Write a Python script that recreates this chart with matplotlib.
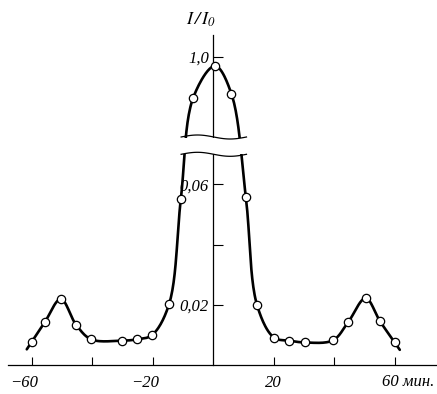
import numpy as np
import matplotlib
matplotlib.use("Agg")
import matplotlib.pyplot as plt
from matplotlib.transforms import ScaledTranslation

# значения
t_min = [-60, -55.7, -50.4, -45.3, -40.3, -30.2, -25.3, -20.3, -14.6, -10.7, -6.6, 0.6, 6.0,
         10.8, 14.5, 20.1, 25.1, 30.2, 39.6, 44.6, 50.4, 55.1, 60]
intens = [0.0077, 0.0142, 0.0219, 0.0133, 0.0085, 0.0081, 0.0085, 0.0099, 0.0202, 0.0552, 0.797, 0.955, 0.817,
          0.0557, 0.0199, 0.0091, 0.0081, 0.0075, 0.0082, 0.0142, 0.0222, 0.0146, 0.0075]

xticks = [-60, -40, -20, 20, 40, 60]
xlabels = ['\u221260', '', '\u221220', '20', '', '']
yticks = [0.02, 0.04, 0.06, 1.0]
ylabels = ['0,02', '', '0,06', '1,0']

# разрыв оси: нижняя часть 0..0.07, верхняя от 0.6
BRK_LO, BRK_HI = 0.07, 0.6
K_LO, K_HI = 3010.0, 200.0
GAP = 17.3
T_LO = BRK_LO * K_LO
T_HI = T_LO + GAP
SX = 3.025  # пикселей на минуту


def fwd(y):
    y = np.asarray(y, dtype=float)
    return np.where(y <= BRK_LO, y * K_LO,
                    np.where(y >= BRK_HI, T_HI + (y - BRK_HI) * K_HI,
                             T_LO + (y - BRK_LO) / (BRK_HI - BRK_LO) * GAP))


def inv(t):
    t = np.asarray(t, dtype=float)
    return np.where(t <= T_LO, t / K_LO,
                    np.where(t >= T_HI, BRK_HI + (t - T_HI) / K_HI,
                             BRK_LO + (t - T_LO) / GAP * (BRK_HI - BRK_LO)))


def cr_seg(p0, p1, p2, p3, n=25):
    def tj(ti, a, b):
        return ti + np.linalg.norm(b - a) ** 0.5
    t0 = 0.0
    t1 = tj(t0, p0, p1)
    t2 = tj(t1, p1, p2)
    t3 = tj(t2, p2, p3)
    t = np.linspace(t1, t2, n)[:, None]
    a1 = (t1 - t) / (t1 - t0) * p0 + (t - t0) / (t1 - t0) * p1
    a2 = (t2 - t) / (t2 - t1) * p1 + (t - t1) / (t2 - t1) * p2
    a3 = (t3 - t) / (t3 - t2) * p2 + (t - t2) / (t3 - t2) * p3
    b1 = (t2 - t) / (t2 - t0) * a1 + (t - t0) / (t2 - t0) * a2
    b2 = (t3 - t) / (t3 - t1) * a2 + (t - t1) / (t3 - t1) * a3
    return (t2 - t) / (t2 - t1) * b1 + (t - t1) / (t2 - t1) * b2


def smooth(xs, ys, ext=9.0):
    P = np.column_stack([np.asarray(xs) * SX, fwd(ys)])
    d0 = P[0] - P[1]
    d1 = P[-1] - P[-2]
    e0 = P[0] + d0 / np.linalg.norm(d0) * ext
    e1 = P[-1] + d1 / np.linalg.norm(d1) * ext
    Q = np.vstack([2 * e0 - P[0], e0, P, e1, 2 * e1 - P[-1]])
    pts = [cr_seg(Q[i - 1], Q[i], Q[i + 1], Q[i + 2]) for i in range(1, len(Q) - 2)]
    pts = np.vstack(pts)
    return pts[:, 0] / SX, inv(pts[:, 1])


plt.rcParams['font.family'] = ['Liberation Serif', 'DejaVu Serif']
plt.rcParams['font.style'] = 'italic'
plt.rcParams['mathtext.fontset'] = 'stix'

fig = plt.figure(figsize=(4.37, 3.94), dpi=100)
ax = fig.add_axes([0, 0, 1, 1])
ax.set_yscale('function', functions=(fwd, inv))
ax.set_xlim(-70.5, 74)
ax.set_ylim(float(inv(-29)), float(inv(365)))

cx, cy = smooth(t_min, intens)
ax.plot(cx, cy, color='black', lw=1.9, zorder=3, solid_capstyle='round')
ax.plot(t_min, intens, 'o', ms=6, mfc='white', mec='black', mew=0.9, zorder=6)

for s in ['top', 'right']:
    ax.spines[s].set_visible(False)
ax.spines['left'].set_position(('data', 0))
ax.spines['bottom'].set_position(('data', 0))
ax.spines['left'].set_bounds(0, 1.11)
ax.spines['bottom'].set_bounds(-68, 74)
for s in ['left', 'bottom']:
    ax.spines[s].set_linewidth(0.9)

ax.set_xticks(xticks, xlabels)
ax.set_yticks(yticks, ylabels)
ax.yaxis.set_minor_locator(matplotlib.ticker.NullLocator())
ax.tick_params(axis='x', direction='in', length=6, width=0.8, pad=7, labelsize=12)
ax.tick_params(axis='y', direction='in', length=7, width=0.8, pad=3, labelsize=12)

# подписи отрицательных значений чуть левее
for lab in ax.get_xticklabels():
    if lab.get_text().startswith('\u2212'):
        lab.set_transform(lab.get_transform() + ScaledTranslation(-0.08, 0, fig.dpi_scale_trans))

# разрыв оси
bx = np.linspace(-10.6, 11.0, 60)
wave = np.sin((bx + 10.6) / 21.6 * 2 * np.pi) * 2.0
ax.fill_between(bx, inv(T_LO + 0.5), inv(T_HI - 0.5), color='white', zorder=4, lw=0)
ax.plot(bx, inv(T_LO + wave), color='black', lw=0.9, zorder=5)
ax.plot(bx, inv(T_HI + wave), color='black', lw=0.9, zorder=5)

ax.text(55.8, float(inv(-17)), '60 мин.', fontsize=12, ha='left', va='center')
ax.text(-4.2, float(inv(345)), r'$I\,/\,I_0$', fontsize=13, ha='center', va='center')

fig.savefig('out.png', dpi=100)
